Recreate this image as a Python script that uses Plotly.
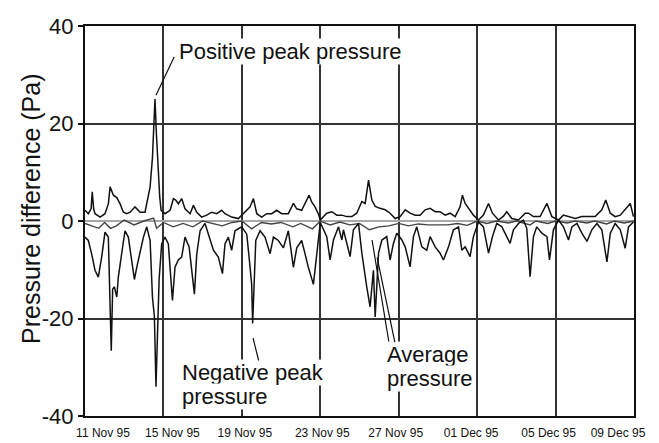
import datetime as dt
import plotly.graph_objects as go

START = dt.datetime(1995, 11, 11)

# ---- data (days after 11 Nov 95 00:00, pressure difference in Pa) ----
NEG_DAY = [0.00, 0.17, 0.34, 0.51, 0.68, 0.85, 1.02, 1.19, 1.29, 1.34, 1.41, 1.50, 1.62, 1.70, 1.87,
           2.04, 2.21, 2.38, 2.52, 2.64, 2.81, 2.98, 3.15, 3.32, 3.44, 3.54, 3.62, 3.71, 3.78, 3.91,
           4.08, 4.25, 4.46, 4.59, 4.76, 4.93, 5.10, 5.31, 5.44, 5.58, 5.70, 5.87, 6.12, 6.38, 6.55,
           6.80, 7.01, 7.14, 7.31, 7.48, 7.65, 7.99, 8.25, 8.42, 8.50, 8.55, 8.62, 8.71, 8.93, 9.18,
           9.44, 9.61, 9.86, 10.12, 10.37, 10.63, 10.80, 11.05, 11.22, 11.39, 11.65, 11.82, 12.00,
           12.33, 12.50, 12.67, 12.93, 13.10, 13.18, 13.52, 13.69, 13.95, 14.12, 14.37, 14.54, 14.71,
           14.80, 14.97, 15.14, 15.39, 15.56, 15.73, 15.90, 16.16, 16.33, 16.58, 16.75, 16.92, 17.18,
           17.43, 17.60, 17.86, 18.11, 18.28, 18.54, 18.79, 19.05, 19.22, 19.39, 19.64, 19.81, 20.07,
           20.32, 20.58, 20.78, 21.00, 21.26, 21.51, 21.68, 21.85, 22.11, 22.36, 22.53, 22.70, 22.87,
           23.04, 23.30, 23.56, 23.69, 23.89, 24.15, 24.40, 24.66, 24.83, 25.09, 25.34, 25.60, 25.85,
           26.11, 26.36, 26.62, 26.79, 27.04, 27.30, 27.55, 27.72, 27.97]
NEG_VAL = [-3.3, -4.0, -6.8, -10.1, -11.5, -7.4, -2.3, -3.3, -19.0, -26.6, -14.0, -13.5, -15.6, -11.5, -6.7,
           -2.0, -3.3, -8.0, -12.0, -9.5, -6.7, -3.3, -1.2, -4.0, -15.6, -19.7, -34.0, -20.0, -12.0, -4.7,
           -3.3, -4.7, -16.3, -9.5, -8.0, -7.4, -3.3, -5.3, -9.5, -15.0, -6.8, -2.0, -0.5, -4.0, -6.0,
           -7.4, -10.8, -4.7, -3.3, -6.0, -2.0, -1.2, -2.7, -9.5, -13.0, -21.0, -12.0, -4.0, -2.0, -3.3,
           -6.7, -3.3, -4.0, -5.5, -2.0, -9.5, -5.5, -4.0, -6.7, -9.5, -13.0, -6.7, -0.3,
           -3.2, -8.0, -3.9, -1.2, -3.9, -1.8, -7.3, -1.8, -0.5, -6.6, -13.5, -17.6, -10.1,
           -19.7, -6.6, -3.9, -3.2, -8.0, -4.6, -2.5, -3.9, -5.3, -9.4, -3.2, -1.2, -5.3,
           -6.0, -3.2, -5.3, -6.6, -8.0, -5.3, -1.8, -1.2, -6.0, -5.3, -7.3, -3.2, -0.2,
           -1.2, -6.6, -3.2, -0.5, -1.2, -3.2, -4.6, -1.8, -0.5, 0.2, -1.5, -11.4, -3.2,
           -1.2, -2.5, -3.2, -8.0, -1.8, 0.2, -1.2, -3.9, -1.2, -0.5, -2.5, -4.2, -1.8,
           -0.5, -1.8, -8.4, -2.5, -0.5, -1.8, -5.6, -1.2, -0.2]

POS_DAY = [0.00, 0.17, 0.31, 0.37, 0.44, 0.51, 0.77, 1.02, 1.19, 1.28, 1.45, 1.62, 1.79, 1.96, 2.13,
           2.30, 2.55, 2.81, 3.06, 3.32, 3.44, 3.50, 3.57, 3.64, 3.71, 3.81, 3.88, 4.08, 4.34, 4.51,
           4.63, 4.76, 4.93, 5.10, 5.36, 5.53, 5.70, 5.95, 6.21, 6.46, 6.72, 6.97, 7.14, 7.48, 7.82,
           8.16, 8.42, 8.59, 8.76, 9.01, 9.27, 9.52, 9.78, 10.03, 10.37, 10.63, 10.80, 11.05, 11.26,
           11.43, 11.56, 11.73, 11.90, 12.00, 12.33, 12.59, 12.84, 13.10, 13.35, 13.61, 13.86, 14.12,
           14.29, 14.35, 14.46, 14.63, 14.80, 15.05, 15.31, 15.56, 15.82, 16.07, 16.33, 16.58, 16.84,
           17.09, 17.35, 17.60, 17.86, 18.11, 18.37, 18.62, 18.88, 19.13, 19.25, 19.39, 19.56, 19.81,
           20.07, 20.32, 20.58, 20.78, 21.09, 21.34, 21.51, 21.77, 22.11, 22.45, 22.62, 22.87, 23.21,
           23.56, 23.81, 24.15, 24.40, 24.66, 25.00, 25.34, 25.68, 26.02, 26.36, 26.56, 26.79, 27.04,
           27.30, 27.55, 27.81, 27.97]
POS_VAL = [2.2, 1.5, 2.5, 6.0, 2.5, 1.5, 0.8, 1.5, 3.5, 7.0, 5.3, 4.8, 3.5, 1.8, 1.5,
           1.8, 2.9, 1.8, 1.8, 7.0, 13.0, 18.0, 25.0, 18.0, 11.8, 5.0, 2.2, 1.5, 2.2, 4.6,
           4.3, 3.5, 4.6, 2.5, 1.5, 3.2, 1.8, 0.8, 1.2, 1.8, 1.5, 2.2, 1.5, 0.8, 0.5,
           1.8, 2.9, 4.6, 1.5, 0.8, 1.5, 1.5, 2.2, 1.5, 1.5, 3.6, 2.5, 2.2, 3.9,
           5.3, 3.9, 2.9, 1.5, 0.2, 1.6, 1.9, 1.2, 1.2, 0.9, 0.9, 1.6, 4.0,
           3.6, 5.0, 8.4, 4.3, 3.0, 2.6, 2.3, 1.6, 0.5, 0.9, 2.3, 1.6, 1.2,
           1.2, 2.3, 2.6, 1.9, 1.9, 1.2, 1.6, 0.9, 2.9, 5.3, 3.6, 2.6, 1.2,
           0.2, 1.2, 3.6, 1.6, 0.2, 1.0, 1.9, 0.5, 0.2, 1.6, 1.6, 0.9, 0.9,
           3.6, 0.9, 0.2, 1.2, 0.9, 0.5, 0.9, 0.9, 0.9, 2.3, 4.3, 1.6, 0.9,
           1.2, 2.3, 3.6, 0.9]

AVG_DAY = [0.0, 0.5, 0.7, 1.0, 1.3, 1.6, 2.0, 2.5, 3.0, 3.5, 3.65, 4.0, 4.5, 5.0, 5.5, 6.0, 6.5, 7.0,
           7.5, 8.0, 8.5, 9.0, 9.5, 10.0, 10.6, 11.0, 11.6, 12.0, 12.5, 13.0, 13.5, 14.0, 14.5, 15.0,
           15.5, 16.0, 16.5, 17.0, 17.5, 18.0, 18.5, 19.0, 19.5, 20.0, 20.5, 21.0, 21.6, 22.0, 22.7,
           23.0, 23.6, 24.0, 24.6, 25.0, 25.6, 26.0, 26.6, 27.0, 27.5, 28.0]
AVG_VAL = [-0.5, -1.2, -1.5, -0.3, -1.5, -1.0, 0.2, -0.8, 0.0, 0.6, -1.5, -0.3, -1.2, -0.5, -1.2, 0.0,
           -0.5, -1.0, -0.3, 0.0, -1.6, -0.3, -0.6, -0.3, -1.2, -0.5, -1.6, 0.0, -0.8, -0.2, -0.8,
           -0.5, -1.8, -1.2, -1.0, -0.5, -1.0, -0.6, -0.8, -0.8, -0.8, -0.5, -0.9, 0.0, -0.5, 0.0,
           -0.4, 0.0, -0.8, 0.0, -0.5, 0.0, -0.4, 0.0, -0.4, 0.0, -0.6, 0.0, -0.4, 0.0]

TICK_LABELS = ["11 Nov 95", "15 Nov 95", "19 Nov 95", "23 Nov 95",
               "27 Nov 95", "01 Dec 95", "05 Dec 95", "09 Dec 95"]
TICK_DAYS = [0, 4, 8, 12, 16, 20, 24, 28]
Y_TICKS = [-40, -20, 0, 20, 40]
Y_TICK_LABELS = ["-40", "-20", "0", "20", "40"]


def to_dt(days):
    return [START + dt.timedelta(days=d) for d in days]


FONT = "Arial, Liberation Sans, Helvetica, sans-serif"
PX_PER_DAY = 549 / 28.0
LABEL_SHIFT_PX = [18, 9, 3, 2, -3, -6, -7, -16]   # layout: nudge x tick labels like the original

fig = go.Figure()
line_style = dict(color="#111111", width=1.5)
fig.add_trace(go.Scatter(x=to_dt(AVG_DAY), y=AVG_VAL, mode="lines",
                         line=dict(color="#444444", width=1.4), name="Average pressure"))
fig.add_trace(go.Scatter(x=to_dt(POS_DAY), y=POS_VAL, mode="lines", line=line_style,
                         name="Positive peak pressure"))
fig.add_trace(go.Scatter(x=to_dt(NEG_DAY), y=NEG_VAL, mode="lines", line=line_style,
                         name="Negative peak pressure"))

grid_dates = to_dt(TICK_DAYS)
label_dates = [g + dt.timedelta(days=s / PX_PER_DAY) for g, s in zip(grid_dates, LABEL_SHIFT_PX)]

fig.update_layout(
    width=659, height=443,
    margin=dict(l=85, r=25, t=26, b=27, autoexpand=False),
    paper_bgcolor="white", plot_bgcolor="white",
    showlegend=False,
    font=dict(family=FONT, color="#111111"),
    xaxis=dict(
        type="date", automargin=False,
        range=[grid_dates[0], grid_dates[-1]],
        tickvals=label_dates, ticktext=TICK_LABELS,
        tickfont=dict(size=12, family=FONT),
        showgrid=False, ticks="", ticklabelstandoff=5,
        minor=dict(tickvals=grid_dates, showgrid=True, gridcolor="#333333", gridwidth=1.6, ticks=""),
        showline=True, linecolor="#111111", linewidth=2, mirror=True,
        zeroline=False,
    ),
    yaxis=dict(
        range=[-40, 40], automargin=False,
        tickvals=Y_TICKS, ticktext=Y_TICK_LABELS,
        tickfont=dict(size=22, family=FONT),
        showgrid=True, gridcolor="#333333", gridwidth=1.6,
        zeroline=True, zerolinecolor="#a8a8a8", zerolinewidth=1.5,
        ticks="outside", ticklen=5, tickcolor="#111111", tickwidth=1.5,
        showline=True, linecolor="#111111", linewidth=2, mirror=True,
    ),
)

# y-axis title
fig.add_annotation(xref="paper", yref="paper", x=(31 - 85) / 549, y=(416 - 209) / 390,
                   text="Pressure difference (Pa)", textangle=-90, showarrow=False,
                   font=dict(size=25, family=FONT), xanchor="center", yanchor="middle")


def label(text, px_x, px_y):
    fig.add_annotation(xref="paper", yref="paper", x=(px_x - 85) / 549, y=(416 - px_y) / 390,
                       text=text, showarrow=False, xanchor="left", yanchor="middle",
                       font=dict(size=22, family=FONT), bgcolor="white", borderpad=0)


def leader(day, val, ax, ay):
    fig.add_annotation(x=START + dt.timedelta(days=day), y=val, text="", showarrow=True,
                       arrowhead=0, arrowwidth=1.2, arrowcolor="#111111", ax=ax, ay=ay,
                       standoff=0, startstandoff=0)


label("Positive peak pressure", 178, 51)
label("Negative peak", 181, 372)
label("pressure", 181, 396)
label("Average", 386, 354)
label("pressure", 386, 378)

leader(3.62, 25.8, 19, -40)
leader(8.57, -24.0, 6, 24)
leader(14.64, -3.9, 17, 103)
leader(14.90, -7.5, 18, 86)

fig.write_html("out.html", config={"displayModeBar": False},
               post_script="document.body.style.margin='0';")
